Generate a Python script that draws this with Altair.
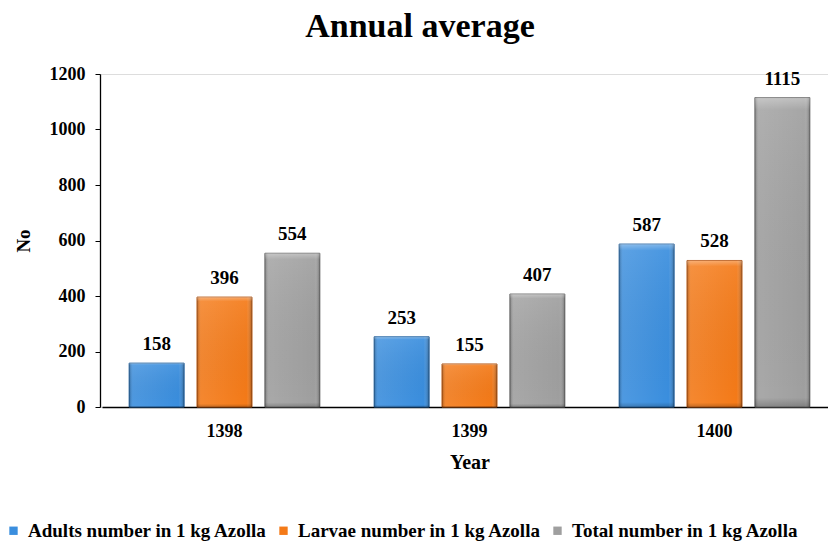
import altair as alt
import pandas as pd

# Yearly averages per kilogram of Azolla
years = ["1398", "1399", "1400"]
series = [
    "Adults number in 1 kg Azolla",
    "Larvae number in 1 kg Azolla",
    "Total number in 1 kg Azolla",
]
adults = [158, 253, 587]
larvae = [396, 155, 528]
total = [554, 407, 1115]
palette = ["#3a8ede", "#f47a18", "#9f9f9f"]
edges = ["#1f5f9e", "#b5520c", "#6a6a6a"]

rows = []
for i, y in enumerate(years):
    for s, vals in zip(series, [adults, larvae, total]):
        rows.append({"Year": y, "Series": s, "Value": vals[i]})
df = pd.DataFrame(rows)

FONT = "Liberation Serif"

x_enc = alt.X(
    "Year:N",
    sort=years,
    scale=alt.Scale(paddingInner=0, paddingOuter=0, range=[2, 737]),
    axis=alt.Axis(
        title="Year",
        labelAngle=0,
        ticks=False,
        labelPadding=15,
        titlePadding=12,
        domainColor="#000000",
        domainWidth=1.3,
        labelFont=FONT,
        labelFontSize=18,
        labelFontWeight="bold",
        labelColor="#000000",
        titleFont=FONT,
        titleFontSize=20,
        titleFontWeight="bold",
        titleColor="#000000",
        grid=False,
    ),
)
xo_enc = alt.XOffset(
    "Series:N",
    sort=series,
    scale=alt.Scale(paddingInner=0.19, paddingOuter=0.4),
)
y_enc = alt.Y(
    "Value:Q",
    scale=alt.Scale(domain=[0, 1200], nice=False),
    axis=alt.Axis(
        title="No",
        values=[0, 200, 400, 600, 800, 1000, 1200],
        format="d",
        tickSize=5,
        tickColor="#000000",
        labelPadding=10,
        titlePadding=16,
        domainColor="#000000",
        domainWidth=1.3,
        labelFont=FONT,
        labelFontSize=18,
        labelFontWeight="bold",
        labelColor="#000000",
        titleFont=FONT,
        titleFontSize=19,
        titleFontWeight="bold",
        titleColor="#000000",
        grid=False,
    ),
)

base = alt.Chart(df).encode(x=x_enc, xOffset=xo_enc, y=y_enc)

bars = base.mark_bar(strokeWidth=1).encode(
    color=alt.Color(
        "Series:N",
        sort=series,
        scale=alt.Scale(domain=series, range=palette),
        legend=alt.Legend(
            title=None,
            orient="none",
            legendX=-96,
            legendY=447,
            direction="horizontal",
            symbolType="square",
            symbolSize=70,
            symbolStrokeWidth=0,
            labelFont=FONT,
            labelFontSize=19,
            labelFontWeight="bold",
            labelColor="#000000",
            labelOffset=5,
            columnPadding=6,
            labelLimit=400,
        ),
    ),
    stroke=alt.Stroke(
        "Series:N",
        sort=series,
        scale=alt.Scale(domain=series, range=edges),
        legend=None,
    ),
)

# Bevel shading laid over each bar
side_shade = alt.LinearGradient(
    gradient="linear",
    x1=0, y1=0, x2=1, y2=0,
    stops=[
        alt.GradientStop(offset=0, color="rgba(0,0,0,0.28)"),
        alt.GradientStop(offset=0.07, color="rgba(255,255,255,0.10)"),
        alt.GradientStop(offset=0.9, color="rgba(255,255,255,0.0)"),
        alt.GradientStop(offset=1, color="rgba(0,0,0,0.32)"),
    ],
)
top_shade = alt.LinearGradient(
    gradient="linear",
    x1=0, y1=0, x2=0, y2=1,
    stops=[
        alt.GradientStop(offset=0, color="rgba(255,255,255,0.35)"),
        alt.GradientStop(offset=0.04, color="rgba(255,255,255,0.08)"),
        alt.GradientStop(offset=0.97, color="rgba(0,0,0,0.0)"),
        alt.GradientStop(offset=1, color="rgba(0,0,0,0.2)"),
    ],
)
shade1 = base.mark_bar(fill=side_shade, strokeWidth=0)
shade2 = base.mark_bar(fill=top_shade, strokeWidth=0)

labels = base.mark_text(
    dy=-13,
    baseline="alphabetic",
    font=FONT,
    fontSize=19,
    fontWeight="bold",
    color="#000000",
).encode(text="Value:Q")

chart = (
    alt.layer(bars, shade1, shade2, labels)
    .properties(
        width=728,
        height=333,
        title=alt.TitleParams(
            "Annual average",
            font=FONT,
            fontSize=34,
            fontWeight="bold",
            color="#000000",
            anchor="middle",
            dx=-44,
            offset=21,
        ),
        autosize=alt.AutoSizeParams(type="none"),
        padding={"left": 100, "top": 74, "right": 0, "bottom": 135},
    )
    .configure_view(stroke=None)
    .configure(background="#ffffff")
)

chart.save("out.html", embed_options={"renderer": "svg", "actions": False})
